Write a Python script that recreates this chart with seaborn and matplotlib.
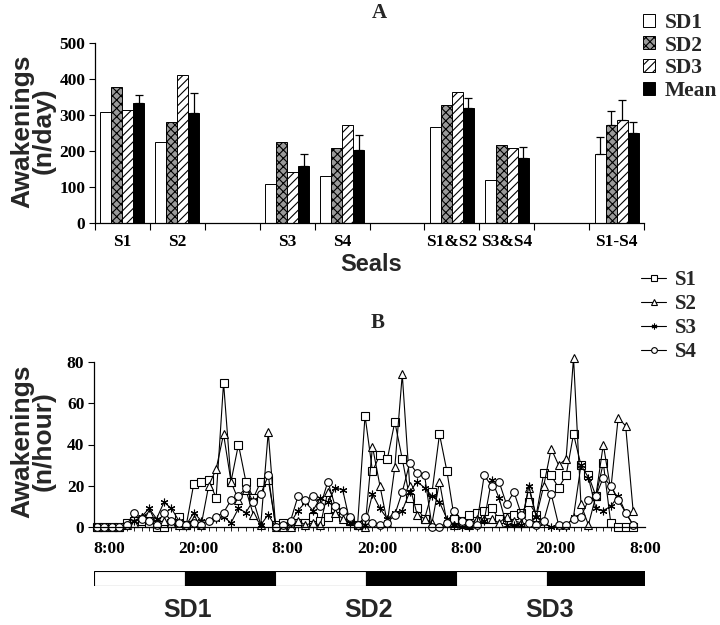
import numpy as np
import pandas as pd
import matplotlib
matplotlib.use("Agg")
import matplotlib.pyplot as plt
import seaborn as sns
from matplotlib.ticker import FixedLocator
from matplotlib.container import BarContainer

sns.set_theme(style="white")
plt.rcParams['font.family'] = ['Liberation Serif', 'DejaVu Serif']
plt.rcParams['hatch.linewidth'] = 0.8
SANS = ['Liberation Sans', 'DejaVu Sans']
SERIF = ['Liberation Serif', 'DejaVu Serif']

# ---------------- Panel A data ----------------
group_order = ["S1", "S2", " ", "S3", "S4", "  ", "S1&S2", "S3&S4", "   ", "S1-S4"]
groups = ["S1", "S2", "S3", "S4", "S1&S2", "S3&S4", "S1-S4"]
days = ["SD1", "SD2", "SD3", "Mean"]
sd1 = [308, 224, 109, 131, 267, 119, 193]
sd2 = [377, 281, 224, 208, 329, 217, 272]
sd3 = [313, 412, 142, 271, 363, 207, 285]
mean = [332, 306, 159, 204, 319, 181, 250]
sd1_err = [0, 0, 0, 0, 0, 0, 47]
sd2_err = [0, 0, 0, 0, 0, 0, 38]
sd3_err = [0, 0, 0, 0, 0, 0, 58]
mean_err = [23, 55, 33, 40, 28, 31, 30]

# ---------------- Panel B data ----------------
hours = list(range(73))
s1 = [0, 0, 0, 0, 2, 3, 3, 2, 0, 0, 2, 5, 1,
      21, 22, 23, 14, 70, 22, 40, 22, 14, 22, 23,
      1, 2, 1, 2, 2, 5, 3, 5, 9, 5, 3, 1,
      54, 27, 35, 33, 51, 33, 14, 9, 4, 17, 45, 27,
      4, 3, 6, 7, 8, 9, 4, 5, 6, 7, 12, 6,
      26, 25, 19, 25, 45, 30, 25, 15, 31, 2, 0, 0, 0]
s2 = [0, 0, 0, 0, 1, 2, 5, 7, 2, 3, 2, 1, 1,
      4, 1, 20, 28, 45, 22, 13, 18, 6, 1, 46,
      0, 0, 0, 3, 1, 2, 1, 17, 7, 4, 3, 1,
      0, 39, 20, 2, 29, 74, 20, 6, 4, 2, 22, 2,
      1, 2, 1, 4, 4, 4, 2, 5, 3, 2, 19, 5,
      20, 38, 30, 33, 82, 11, 1, 15, 40, 18, 53, 49, 8]
s3 = [0, 0, 0, 0, 1, 3, 5, 9, 4, 12, 9, 3, 1,
      7, 3, 3, 4, 5, 2, 9, 7, 13, 1, 6,
      0, 1, 2, 8, 12, 8, 14, 12, 19, 18, 2, 1,
      1, 16, 9, 4, 7, 8, 17, 22, 19, 15, 12, 4,
      1, 0, 0, 1, 3, 23, 14, 1, 1, 1, 20, 5,
      2, 0, 0, 0, 5, 30, 24, 9, 8, 10, 15, 7, 1]
s4 = [0, 0, 0, 0, 1, 7, 4, 3, 1, 7, 3, 2, 1,
      2, 1, 3, 5, 7, 13, 15, 19, 12, 16, 25,
      0, 1, 3, 15, 13, 15, 10, 22, 10, 8, 5, 1,
      5, 2, 1, 2, 6, 17, 31, 26, 25, 0, 0, 2,
      8, 3, 2, 1, 25, 20, 22, 11, 17, 6, 2, 1,
      3, 16, 1, 1, 4, 5, 13, 15, 24, 20, 13, 7, 1]
seals = ["S1", "S2", "S3", "S4"]
tick_hours = [0, 12, 24, 36, 48, 60, 72]
tick_labels = ["8:00", "20:00", "8:00", "20:00", "8:00", "20:00", "8:00"]
phase_edges = [-0.4, 11.6, 23.6, 35.6, 47.6, 59.6, 72.66]
phase_dark = [False, True, False, True, False, True]
sd_labels = ["SD1", "SD2", "SD3"]
sd_centers = [12, 36, 60]

W, H = 720, 625
fig = plt.figure(figsize=(7.2, 6.25), dpi=100)

def fx(px):
    return px / W

def fy(py):
    return 1 - py / H

# ================= Panel A =================
axA = fig.add_axes([fx(95), fy(223), fx(644) - fx(95), fy(43) - fy(223)])
rows = []
for g, a, b, c, m in zip(groups, sd1, sd2, sd3, mean):
    for d, v in zip(days, [a, b, c, m]):
        rows.append({"group": g, "day": d, "value": v})
dfA = pd.DataFrame(rows)
sns.barplot(data=dfA, x="group", y="value", hue="day", order=group_order,
            hue_order=days, palette=["white", "#9a9a9a", "white", "black"],
            saturation=1, edgecolor="black", linewidth=0.7, errorbar=None,
            legend=False, ax=axA)
bar_containers = [c for c in axA.containers if isinstance(c, BarContainer)]
hatches = ["", "xxxx", "////", ""]
errs = [sd1_err, sd2_err, sd3_err, mean_err]
for cont, hatch, err in zip(bar_containers, hatches, errs):
    bars = [p for p in cont.patches if np.isfinite(p.get_height()) and p.get_height() > 0]
    for p, e in zip(bars, err):
        p.set_hatch(hatch)
        if e > 0:
            xc = p.get_x() + p.get_width() / 2
            axA.errorbar(xc, p.get_height(), yerr=[[0], [e]], fmt="none",
                         ecolor="black", elinewidth=0.9, capsize=3, capthick=0.9)
axA.set_ylim(0, 500)
axA.set_xlim(-0.5, 9.5)
axA.set_yticks([0, 100, 200, 300, 400, 500])
axA.set_xticks(range(len(group_order)))
axA.set_xticklabels(group_order)
axA.xaxis.set_minor_locator(FixedLocator(np.arange(-0.5, 10, 1)))
axA.tick_params(axis="x", which="major", length=0, pad=8)
axA.tick_params(axis="x", which="minor", length=5, width=0.8, color="black", direction="out", bottom=True)
axA.tick_params(axis="y", length=4, width=0.8, color="black", direction="out", left=True, pad=3)
for lab in axA.get_xticklabels() + axA.get_yticklabels():
    lab.set_fontfamily(SERIF)
    lab.set_fontweight("bold")
    lab.set_fontsize(12.5)
    lab.set_color("black")
axA.set_xlabel("")
axA.set_ylabel("")
sns.despine(ax=axA)
for s in ["left", "bottom"]:
    axA.spines[s].set_color("black")
    axA.spines[s].set_linewidth(0.9)

legA = fig.legend(handles=[c.patches[0] for c in bar_containers], labels=days,
                  loc="upper left", bbox_to_anchor=(fx(643), fy(13)),
                  frameon=False, prop={"family": SERIF, "weight": "bold", "size": 15.5},
                  handlelength=0.55, handleheight=0.55, handletextpad=0.45,
                  labelspacing=0.12, borderpad=0, borderaxespad=0)

fig.text(fx(379), fy(13), "A", ha="center", va="center", family=SERIF,
         weight="bold", size=15)
fig.text(fx(33), fy(131), "Awakenings\n(n/day)", rotation=90, ha="center",
         va="center", family=SANS, weight="bold", size=19, linespacing=0.85)
fig.text(fx(371), fy(265), "Seals", ha="center", va="center", family=SANS,
         weight="bold", size=17)

# ================= Panel B =================
axB = fig.add_axes([fx(94), fy(527), fx(645) - fx(94), fy(362) - fy(527)])
dfB = pd.DataFrame({
    "hour": hours * 4,
    "n": s1 + s2 + s3 + s4,
    "seal": sum([[s] * len(hours) for s in seals], []),
})
sns.lineplot(data=dfB, x="hour", y="n", hue="seal", style="seal",
             hue_order=seals, style_order=seals,
             palette={s: "black" for s in seals},
             markers={"S1": "s", "S2": "^", "S3": "X", "S4": "o"},
             dashes=False, linewidth=0.8, markersize=5.5, legend=False, ax=axB)
marker_final = {"S1": "s", "S2": "^", "S3": (6, 2, 0), "S4": "o"}
for ln, s in zip(axB.lines, seals):
    ln.set_marker(marker_final[s])
    ln.set_markerfacecolor("white")
    ln.set_markeredgecolor("black")
    ln.set_markeredgewidth(0.8)
    ln.set_clip_on(False)
axB.set_xlim(-0.4, 72.66)
axB.set_ylim(0, 80)
axB.set_yticks([0, 20, 40, 60, 80])
axB.set_xticks([h + 1.6 for h in tick_hours])
axB.set_xticklabels(tick_labels)
axB.xaxis.set_minor_locator(FixedLocator(hours))
axB.tick_params(axis="x", which="major", length=0, pad=10)
axB.tick_params(axis="x", which="minor", length=3, width=0.6, color="black", direction="out", bottom=True)
axB.tick_params(axis="y", length=4, width=0.8, color="black", direction="out", left=True, pad=3)
for lab in axB.get_xticklabels() + axB.get_yticklabels():
    lab.set_fontfamily(SERIF)
    lab.set_fontweight("bold")
    lab.set_fontsize(12.5)
    lab.set_color("black")
axB.set_xlabel("")
axB.set_ylabel("")
sns.despine(ax=axB)
for s in ["left", "bottom"]:
    axB.spines[s].set_color("black")
    axB.spines[s].set_linewidth(0.9)

legB = fig.legend(handles=list(axB.lines[:4]), labels=seals,
                  loc="upper left", bbox_to_anchor=(fx(641), fy(270)),
                  frameon=False, prop={"family": SERIF, "weight": "bold", "size": 15},
                  handlelength=1.2, handletextpad=0.45, markerscale=0.75,
                  labelspacing=0.2, borderpad=0, borderaxespad=0)

fig.text(fx(378), fy(323), "B", ha="center", va="center", family=SERIF,
         weight="bold", size=15)
fig.text(fx(33), fy(441), "Awakenings\n(n/hour)", rotation=90, ha="center",
         va="center", family=SANS, weight="bold", size=19, linespacing=0.85)

# ================= Light/dark bar =================
axC = fig.add_axes([fx(94), fy(586), fx(645) - fx(94), fy(571) - fy(586)])
for i, dark in enumerate(phase_dark):
    axC.barh(0, phase_edges[i + 1] - phase_edges[i], left=phase_edges[i], height=1,
             color="black" if dark else "white", edgecolor="black", linewidth=0.8)
axC.set_xlim(-0.4, 72.66)
axC.set_ylim(-0.5, 0.5)
axC.axis("off")
for lab, c in zip(sd_labels, sd_centers):
    axC.text(c, -2.1, lab, ha="center", va="center", family=SANS,
             weight="bold", size=18, transform=axC.transData, clip_on=False)

fig.savefig("out.png", dpi=100)
